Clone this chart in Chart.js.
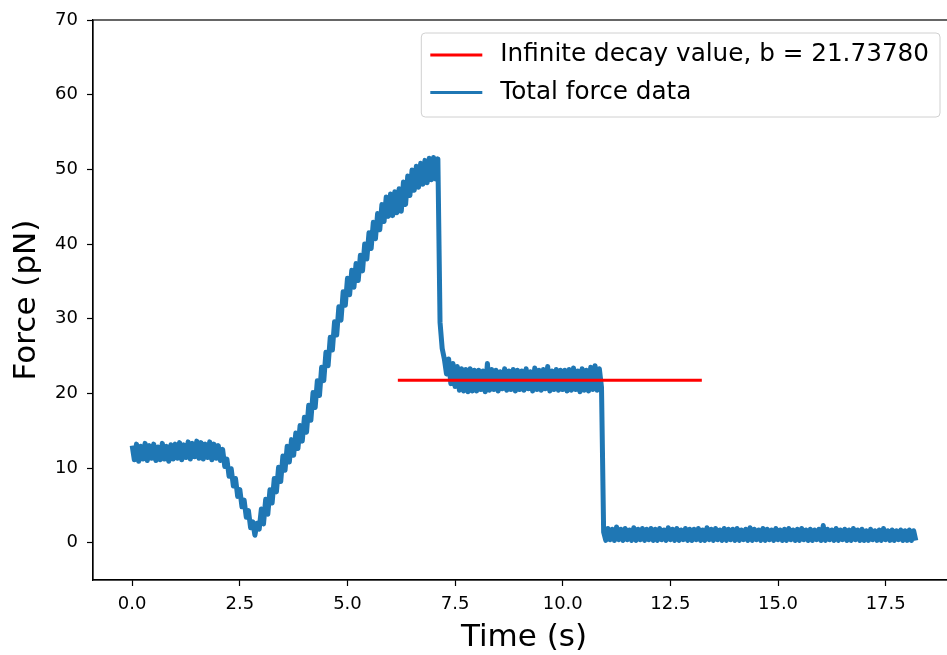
<!DOCTYPE html>
<html>
<head>
<meta charset="utf-8">
<script src="https://cdn.jsdelivr.net/npm/chart.js@4.4.1/dist/chart.umd.min.js"></script>
<style>
  body { margin: 0; background: #fff; overflow: hidden; }
  #wrap { width: 947px; height: 655px; overflow: hidden; }
</style>
</head>
<body>
<div id="wrap"><canvas id="forceChart" width="960" height="655"></canvas></div>
<script>
// sampling interval of the force trace, seconds
var sampleInterval = 0.05;

// total force (pN), one row per second of recording
var forceData = [
  13.0, 11.1, 13.2, 10.9, 12.9, 11.2, 13.3, 11.0, 13.0, 11.3, 13.2, 11.0, 12.8, 11.1, 13.3, 11.2, 12.9, 10.9, 13.1, 11.2,
  13.2, 11.3, 13.4, 11.1, 13.1, 11.4, 13.5, 11.2, 13.3, 11.5, 13.6, 11.3, 13.4, 11.2, 13.2, 11.4, 13.5, 11.1, 13.2, 11.3,
  13.0, 11.0, 12.5, 10.2, 11.2, 8.9, 9.9, 7.6, 8.6, 6.2, 7.1, 4.8, 5.7, 3.4, 4.3, 2.0, 2.8, 1.0, 2.6, 1.8,
  4.5, 2.5, 5.8, 3.8, 7.1, 5.3, 8.6, 6.8, 10.1, 8.2, 11.6, 9.7, 12.9, 10.8, 13.8, 11.7, 14.7, 12.6, 15.7, 13.6,
  16.8, 14.8, 18.4, 16.4, 20.1, 18.1, 21.7, 19.7, 23.5, 21.7, 25.5, 23.7, 27.5, 25.8, 29.6, 27.8, 31.6, 29.8, 33.6, 31.8,
  35.4, 33.2, 36.5, 34.2, 37.4, 35.1, 38.5, 36.4, 40.0, 38.0, 41.5, 39.4, 42.9, 40.7, 44.1, 41.9, 45.3, 43.0, 46.3, 43.7,
  46.7, 43.8, 47.0, 44.2, 47.4, 44.4, 48.3, 45.3, 49.1, 46.5, 49.9, 47.2, 50.4, 47.6, 50.8, 48.0, 51.2, 48.2, 51.5, 48.6,
  51.6, 48.7, 51.4, 29.5, 26.0, 24.6, 22.6, 24.6, 21.3, 24.0, 20.9, 23.6, 20.4, 23.3, 20.3, 23.2, 20.2, 23.3, 20.3, 23.1,
  20.3, 23.1, 20.5, 23.0, 20.2, 24.0, 20.4, 23.2, 20.5, 23.1, 20.3, 22.9, 20.6, 23.3, 20.4, 23.0, 20.5, 23.2, 20.3, 23.1,
  20.5, 23.0, 20.4, 23.3, 20.6, 22.9, 20.3, 23.4, 20.5, 23.1, 20.4, 23.2, 20.6, 23.6, 20.3, 23.0, 20.5, 23.2, 20.4, 23.1,
  20.5, 23.1, 20.3, 23.2, 20.4, 23.4, 20.5, 23.0, 20.2, 23.3, 20.4, 23.1, 20.3, 23.5, 20.5, 23.7, 20.4, 23.3, 20.8, 1.4,
  0.3, 1.9, 0.4, 1.8, 0.3, 2.1, 0.4, 1.8, 0.3, 1.9, 0.4, 1.7, 0.3, 2.0, 0.3, 1.8, 0.4, 1.9, 0.3, 1.8,
  0.4, 1.9, 0.3, 1.8, 0.3, 1.9, 0.4, 1.7, 0.3, 2.0, 0.4, 1.8, 0.3, 1.9, 0.3, 1.7, 0.4, 1.9, 0.3, 1.8,
  0.3, 1.8, 0.4, 1.9, 0.3, 1.7, 0.3, 2.0, 0.4, 1.8, 0.3, 1.9, 0.4, 1.7, 0.3, 1.9, 0.3, 1.8, 0.4, 1.8,
  0.3, 1.9, 0.3, 1.7, 0.4, 1.8, 0.3, 2.0, 0.3, 1.8, 0.4, 1.7, 0.3, 1.9, 0.3, 1.8, 0.4, 1.7, 0.3, 1.9,
  0.4, 1.7, 0.3, 1.8, 0.3, 1.9, 0.4, 1.7, 0.3, 1.8, 0.3, 1.9, 0.4, 1.7, 0.3, 1.8, 0.3, 1.7, 0.4, 1.8,
  0.3, 2.3, 0.3, 1.8, 0.4, 1.7, 0.3, 1.9, 0.3, 1.7, 0.4, 1.8, 0.3, 1.7, 0.3, 1.9, 0.4, 1.7, 0.3, 1.8,
  0.3, 1.6, 0.3, 1.8, 0.4, 1.6, 0.3, 1.7, 0.3, 1.9, 0.4, 1.6, 0.3, 1.7, 0.3, 1.6, 0.4, 1.7, 0.3, 1.6,
  0.3, 1.7, 0.3, 1.6, 0.3
];

// fitted plateau (infinite decay value)
var fitTimes = [6.17, 13.23];
var decayValue = 21.73780;

var xTicks = [0, 2.5, 5, 7.5, 10, 12.5, 15, 17.5];
var yTicks = [0, 10, 20, 30, 40, 50, 60, 70];

var fontFamily = "'DejaVu Sans', sans-serif";

var forcePoints = [];
for (var i = 0; i < forceData.length; i++) {
  forcePoints.push({ x: i * sampleInterval, y: forceData[i] });
}
var fitPoints = fitTimes.map(function (t) { return { x: t, y: decayValue }; });

// matplotlib style frame + legend in the upper right
var framePlugin = {
  id: 'frame',
  afterDraw: function (chart) {
    var ctx = chart.ctx, a = chart.chartArea;
    ctx.save();
    ctx.strokeStyle = '#000';
    ctx.lineWidth = 1.2;
    ctx.strokeRect(a.left, a.top, a.right - a.left, a.bottom - a.top);

    var items = chart.data.datasets;
    ctx.font = '24.7px ' + fontFamily;
    var textW = 0;
    items.forEach(function (d) { textW = Math.max(textW, ctx.measureText(d.label).width); });
    var boxRight = 940, boxTop = 33, rowH = 37.5;
    var boxW = 9 + 52 + 18 + textW + 11, boxH = 84;
    var boxLeft = boxRight - boxW;
    ctx.beginPath();
    ctx.roundRect(boxLeft, boxTop, boxW, boxH, 4);
    ctx.fillStyle = 'rgba(255,255,255,0.8)';
    ctx.fill();
    ctx.strokeStyle = '#d0d0d0';
    ctx.lineWidth = 1;
    ctx.stroke();
    ctx.textBaseline = 'middle';
    ctx.textAlign = 'left';
    items.forEach(function (d, k) {
      var cy = boxTop + 22 + k * rowH;
      ctx.strokeStyle = d.borderColor;
      ctx.lineWidth = 3;
      ctx.beginPath();
      ctx.moveTo(boxLeft + 9, cy);
      ctx.lineTo(boxLeft + 61, cy);
      ctx.stroke();
      ctx.fillStyle = '#000';
      ctx.fillText(d.label, boxLeft + 79, cy);
    });
    ctx.restore();
  }
};

new Chart(document.getElementById('forceChart'), {
  type: 'line',
  data: {
    datasets: [{
      label: 'Infinite decay value, b = 21.73780',
      data: fitPoints,
      borderColor: '#ff0000',
      borderWidth: 3,
      pointRadius: 0
    }, {
      label: 'Total force data',
      data: forcePoints,
      borderColor: '#1f77b4',
      borderWidth: 5,
      borderJoinStyle: 'round',
      pointRadius: 0
    }]
  },
  options: {
    responsive: false,
    animation: false,
    devicePixelRatio: 1,
    layout: { padding: { top: 20, right: 5, left: 0, bottom: 0 } },
    plugins: { legend: { display: false }, tooltip: { enabled: false } },
    scales: {
      x: {
        type: 'linear',
        min: -0.91,
        max: 19.11,
        afterBuildTicks: function (s) { s.ticks = xTicks.map(function (v) { return { value: v }; }); },
        afterFit: function (s) { s.height = 75; },
        ticks: {
          callback: function (v) { return v.toFixed(1); },
          color: '#000', font: { family: fontFamily, size: 18 }, padding: 8,
          maxRotation: 0, autoSkip: false
        },
        grid: { display: true, drawOnChartArea: false, drawTicks: true, tickLength: 6, tickWidth: 1.2, tickColor: '#000' },
        border: { display: true, color: '#000', width: 1.2 },
        title: { display: true, text: 'Time (s)', color: '#000', font: { family: fontFamily, size: 31, lineHeight: 1.1 }, padding: { top: 0, bottom: 0 } }
      },
      y: {
        min: -5,
        max: 70,
        afterBuildTicks: function (s) { s.ticks = yTicks.map(function (v) { return { value: v }; }); },
        afterFit: function (s) { s.width = 93; },
        ticks: {
          callback: function (v) { return String(v); },
          color: '#000', font: { family: fontFamily, size: 18 }, padding: 9
        },
        grid: { display: true, drawOnChartArea: false, drawTicks: true, tickLength: 6, tickWidth: 1.2, tickColor: '#000' },
        border: { display: true, color: '#000', width: 1.2 },
        title: { display: true, text: 'Force (pN)', color: '#000', font: { family: fontFamily, size: 31 }, padding: { top: 8, bottom: 0 } }
      }
    }
  },
  plugins: [framePlugin]
});
</script>
</body>
</html>
